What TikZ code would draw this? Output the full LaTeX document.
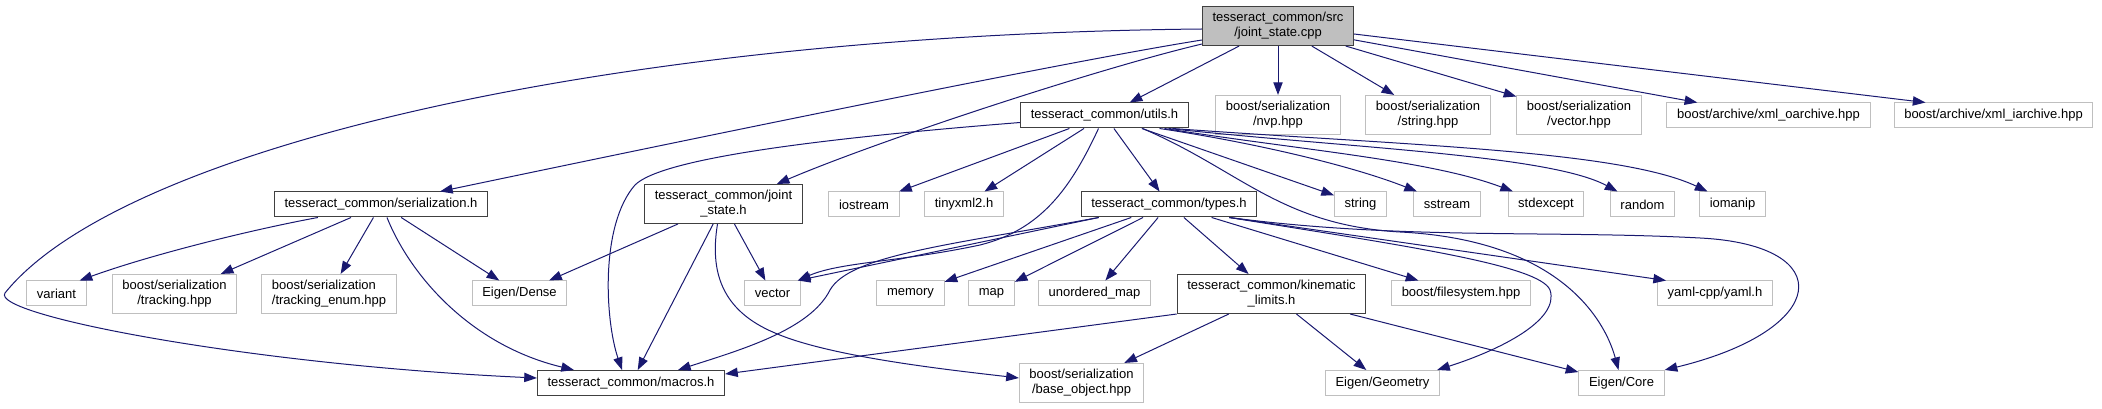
\documentclass[tikz,border=0pt]{standalone}
\usepackage{fontspec}
\setmainfont{Liberation Sans}
\usepackage{tikz}
\usetikzlibrary{arrows.meta,calc}
\definecolor{edgeblue}{HTML}{191970}
\definecolor{lightframe}{HTML}{BFBFBF}
\definecolor{darkframe}{HTML}{404040}

\begin{document}
\begin{tikzpicture}[x=0.75pt, y=-0.75pt,
  box/.style={rectangle, fill=white, font=\fontsize{9.75}{11.25}\selectfont, align=center, inner xsep=7.6pt, inner ysep=4.5pt, minimum height=18.75pt, line width=0.75pt},
  doc/.style={box, draw=darkframe},
  ext/.style={box, draw=lightframe},
  root/.style={box, draw=darkframe, fill=lightframe},
  inc/.style={draw=edgeblue, line width=0.75pt, -{Triangle[length=9.5pt,width=7pt]}}]
\useasboundingbox (0,0) rectangle (2102,409);
% Headers
\node[root] (cpp) at (1278,26) {tesseract\_common/src\\/joint\_state.cpp};
\node[doc] (utils) at (1104.5,115.5) {tesseract\_common/utils.h};
\node[ext] (nvp) at (1278,115) {boost/serialization\\/nvp.hpp};
\node[ext] (strhpp) at (1428,115) {boost/serialization\\/string.hpp};
\node[ext] (vechpp) at (1579,115) {boost/serialization\\/vector.hpp};
\node[ext] (oarch) at (1768.5,115.5) {boost/archive/xml\_oarchive.hpp};
\node[ext] (iarch) at (1993.5,115.5) {boost/archive/xml\_iarchive.hpp};
\node[doc] (ser) at (381,204.5) {tesseract\_common/serialization.h};
\node[doc] (jsh) at (723.5,204) {tesseract\_common/joint\\\_state.h};
\node[ext] (iostream) at (864,204.5) {iostream};
\node[ext] (tinyxml) at (964,204.5) {tinyxml2.h};
\node[doc] (types) at (1169,204.5) {tesseract\_common/types.h};
\node[ext] (string) at (1360.5,204.5) {string};
\node[ext] (sstream) at (1447,204.5) {sstream};
\node[ext] (stdexcept) at (1546,204.5) {stdexcept};
\node[ext] (random) at (1642.5,204.5) {random};
\node[ext] (iomanip) at (1732.5,204.5) {iomanip};
\node[ext] (variant) at (56.5,293.5) {variant};
\node[ext] (tracking) at (174.5,294) {boost/serialization\\/tracking.hpp};
\node[ext, align=left] (trackenum) at (329,294) {boost/serialization\\/tracking\_enum.hpp};
\node[ext] (dense) at (519.5,293.5) {Eigen/Dense};
\node[ext] (vector) at (772.5,293.5) {vector};
\node[ext] (memory) at (910.5,293.5) {memory};
\node[ext] (map) at (991.5,293.5) {map};
\node[ext] (umap) at (1094.5,293.5) {unordered\_map};
\node[doc] (kin) at (1271.5,294) {tesseract\_common/kinematic\\\_limits.h};
\node[ext] (fs) at (1461,293.5) {boost/filesystem.hpp};
\node[ext] (yaml) at (1715,293.5) {yaml-cpp/yaml.h};
\node[doc] (macros) at (631,383) {tesseract\_common/macros.h};
\node[ext] (baseobj) at (1081.5,383) {boost/serialization\\/base\_object.hpp};
\node[ext] (geom) at (1382.5,383) {Eigen/Geometry};
\node[ext] (core) at (1621.5,383) {Eigen/Core};
% joint_state.cpp includes
\draw[inc] (cpp) -- (utils);
\draw[inc] (cpp) -- (nvp);
\draw[inc] (cpp) -- (strhpp);
\draw[inc] (cpp) -- (vechpp);
\draw[inc] (cpp) -- (oarch);
\draw[inc] ($(cpp.east)+(0,8)$) -- ($(iarch.north)+(-68,0)$);
\draw[inc] ($(cpp.west)+(0,14)$) .. controls (1050,64) and (600,158) .. ($(ser.north)+(59,0)$);
\draw[inc] ($(cpp.west)+(0,18)$) .. controls (1100,68) and (880,140) .. ($(jsh.north east)+(-26,0)$);
\draw[inc] ($(cpp.west)+(0,3)$) .. controls (600,35) and (120,150) .. (5,293) .. controls (-10,315) and (250,365) .. ($(macros.west)+(0,-5)$);
% serialization.h includes
\draw[inc] ($(ser.south west)+(44,0)$) .. controls (250,230) and (150,255) .. ($(variant.north east)+(-7,0)$);
\draw[inc] (ser) -- (tracking);
\draw[inc] (ser) -- (trackenum);
\draw[inc] ($(ser.south)+(6,0)$) .. controls (410,275) and (470,345) .. ($(macros.north west)+(37,0)$);
\draw[inc] (ser) -- (dense);
% joint_state.h includes
\draw[inc] (jsh) -- (dense);
\draw[inc] (jsh) -- (macros);
\draw[inc] (jsh) -- (vector);
\draw[inc] ($(jsh.south)+(-6,0)$) .. controls (710,270) and (720,310) .. (775,333) .. controls (830,357) and (950,370) .. ($(baseobj.west)+(0,-5)$);
% utils.h includes
\draw[inc] (utils) -- (iostream);
\draw[inc] (utils) -- (tinyxml);
\draw[inc] (utils) -- (types);
\draw[inc] (utils) -- (string);
\draw[inc] ($(utils.south)+(55,0)$) .. controls (1250,142) and (1350,165) .. ($(sstream.north)+(-30,0)$);
\draw[inc] ($(utils.south)+(60,0)$) .. controls (1300,150) and (1430,160) .. ($(stdexcept.north)+(-33,0)$);
\draw[inc] ($(utils.south)+(64,0)$) .. controls (1350,148) and (1550,155) .. ($(random.north)+(-25,0)$);
\draw[inc] ($(utils.south)+(68,0)$) .. controls (1400,145) and (1620,150) .. ($(iomanip.north)+(-25,0)$);
\draw[inc] ($(utils.south)+(-6,0)$) .. controls (1070,190) and (1040,230) .. (980,245) .. controls (900,262) and (840,262) .. ($(vector.north east)+(-3,0)$);
\draw[inc] ($(utils.west)+(0,7)$) .. controls (800,140) and (660,160) .. (635,185) .. controls (600,225) and (605,320) .. ($(macros.north)+(-9,0)$);
\draw[inc] ($(utils.south)+(38,0)$) .. controls (1240,170) and (1280,225) .. (1400,232) .. controls (1560,240) and (1605,320) .. ($(core.north)+(-3,0)$);
% types.h includes
\draw[inc] ($(types.south west)+(18,0)$) -- ($(vector.north east)+(-3,0)$);
\draw[inc] ($(types.south west)+(18,0)$) .. controls (950,245) and (850,255) .. (830,290) .. controls (810,330) and (740,350) .. ($(macros.north)+(47,0)$);
\draw[inc] (types) -- (memory);
\draw[inc] (types) -- (map);
\draw[inc] (types) -- (umap);
\draw[inc] (types) -- (kin);
\draw[inc] (types) -- (fs);
\draw[inc] ($(types.south east)+(-28,0)$) .. controls (1400,245) and (1540,265) .. (1550,290) .. controls (1560,320) and (1500,350) .. ($(geom.north east)+(-3,0)$);
\draw[inc] ($(types.south east)+(-28,0)$) -- ($(yaml.north west)+(9,0)$);
\draw[inc] ($(types.south east)+(-28,0)$) .. controls (1400,240) and (1550,230) .. (1700,238) .. controls (1840,245) and (1830,330) .. (core.north east);
% kinematic_limits.h includes
\draw[inc] (kin.south west) -- ($(macros.east)+(0,-9)$);
\draw[inc] (kin) -- (baseobj);
\draw[inc] (kin) -- (geom);
\draw[inc] (kin) -- (core);
\end{tikzpicture}
\end{document}
